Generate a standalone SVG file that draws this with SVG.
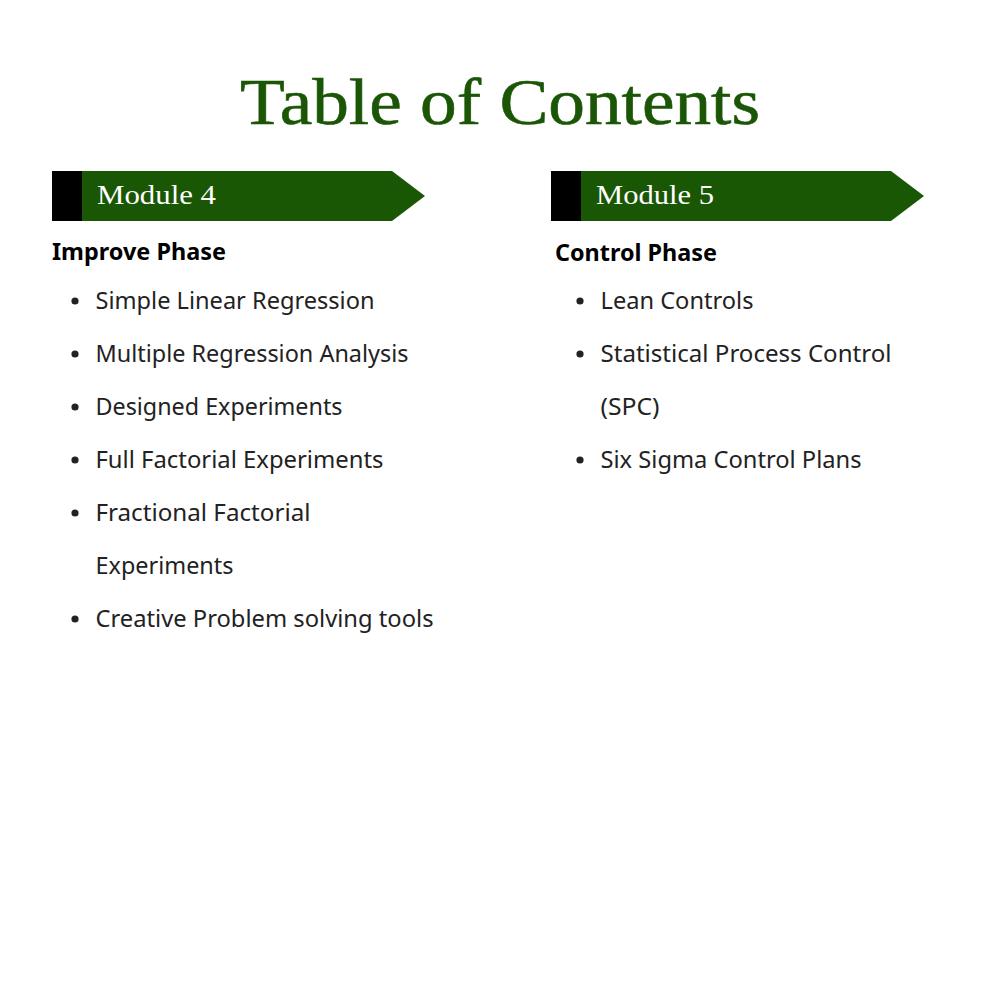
<svg xmlns="http://www.w3.org/2000/svg" width="1000" height="1000" viewBox="0 0 1000 1000">
<style>
.title{font-family:"Liberation Serif","DejaVu Serif",serif;font-size:65px;fill:#1a5605;stroke:#1a5605;stroke-width:0.6px}
.mod{font-family:"Liberation Serif","DejaVu Serif",serif;font-size:27px;fill:#ffffff}
.head{font-family:"Noto Sans","Open Sans",sans-serif;font-size:23px;font-weight:bold;fill:#000000}
.item{font-family:"Noto Sans","Open Sans",sans-serif;font-size:23px;fill:#222222}
.green{fill:#1a5704}
.blk{fill:#000000}
.dot{fill:#222222}
</style>
<rect width="1000" height="1000" fill="#ffffff"/>
<g id="title">
<text class="title" x="240" y="124" textLength="520" lengthAdjust="spacingAndGlyphs">Table of Contents</text>
</g>
<g id="module4">
<polygon class="green" points="82,171 392,171 425,196 392,221 82,221"/>
<rect class="blk" x="52" y="171" width="30" height="50"/>
<text class="mod" x="97" y="204" textLength="119" lengthAdjust="spacingAndGlyphs">Module 4</text>
<text class="head" x="52" y="260" textLength="174" lengthAdjust="spacingAndGlyphs">Improve Phase</text>
<circle class="dot" cx="75" cy="301" r="3.6"/>
<text class="item" x="95.5" y="309" textLength="279" lengthAdjust="spacingAndGlyphs">Simple Linear Regression</text>
<circle class="dot" cx="75" cy="354" r="3.6"/>
<text class="item" x="95.5" y="362" textLength="313" lengthAdjust="spacingAndGlyphs">Multiple Regression Analysis</text>
<circle class="dot" cx="75" cy="407" r="3.6"/>
<text class="item" x="95.5" y="415" textLength="247" lengthAdjust="spacingAndGlyphs">Designed Experiments</text>
<circle class="dot" cx="75" cy="460" r="3.6"/>
<text class="item" x="95.5" y="468" textLength="288" lengthAdjust="spacingAndGlyphs">Full Factorial Experiments</text>
<circle class="dot" cx="75" cy="513" r="3.6"/>
<text class="item" x="95.5" y="521" textLength="215" lengthAdjust="spacingAndGlyphs">Fractional Factorial</text>
<text class="item" x="95.5" y="574" textLength="138" lengthAdjust="spacingAndGlyphs">Experiments</text>
<circle class="dot" cx="75" cy="619" r="3.6"/>
<text class="item" x="95.5" y="627" textLength="338" lengthAdjust="spacingAndGlyphs">Creative Problem solving tools</text>
</g>
<g id="module5">
<polygon class="green" points="581,171 891,171 924,196 891,221 581,221"/>
<rect class="blk" x="551" y="171" width="30" height="50"/>
<text class="mod" x="596" y="204" textLength="118" lengthAdjust="spacingAndGlyphs">Module 5</text>
<text class="head" x="555" y="261" textLength="162" lengthAdjust="spacingAndGlyphs">Control Phase</text>
<circle class="dot" cx="580" cy="301" r="3.6"/>
<text class="item" x="600.5" y="309" textLength="153" lengthAdjust="spacingAndGlyphs">Lean Controls</text>
<circle class="dot" cx="580" cy="354" r="3.6"/>
<text class="item" x="600.5" y="362" textLength="291" lengthAdjust="spacingAndGlyphs">Statistical Process Control</text>
<text class="item" x="600.5" y="415" textLength="59" lengthAdjust="spacingAndGlyphs">(SPC)</text>
<circle class="dot" cx="580" cy="460" r="3.6"/>
<text class="item" x="600.5" y="468" textLength="261" lengthAdjust="spacingAndGlyphs">Six Sigma Control Plans</text>
</g>
</svg>
